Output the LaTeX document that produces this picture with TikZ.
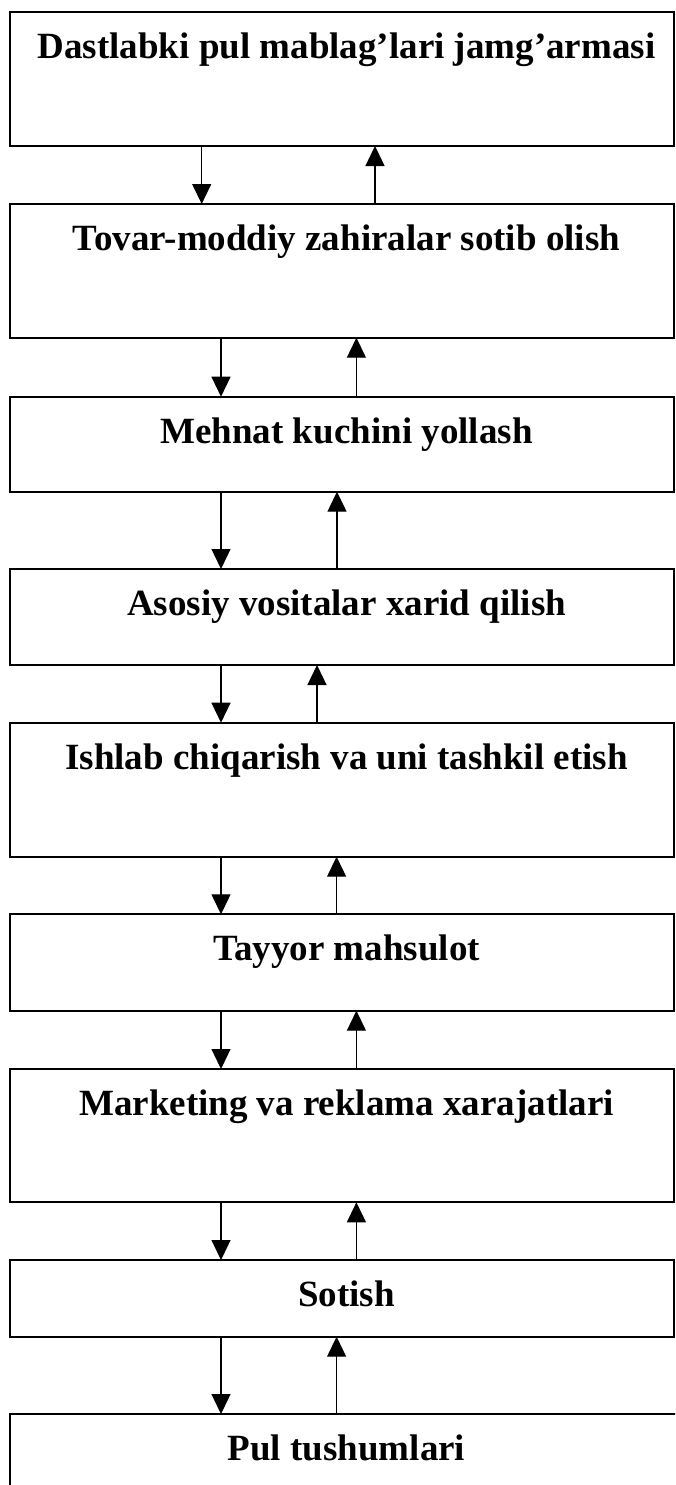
\documentclass[tikz,border=0pt]{standalone}
\usepackage{fontspec}
\setmainfont{Liberation Serif}
\usetikzlibrary{arrows.meta}
\begin{document}
\begin{tikzpicture}[x=1pt,y=-1pt,
  stage/.style={draw, line width=2pt, rectangle, inner sep=0pt, outer sep=0pt,
    anchor=north west, minimum width=664pt},
  caption/.style={anchor=base, inner sep=0pt,
    font=\bfseries\fontsize{37}{44}\selectfont},
  flow/.style={line width=1.3pt, -{Triangle[length=20pt,width=19pt]}}]
\useasboundingbox (0,0) rectangle (675,1485);
\clip (0,0) rectangle (675,1485);

% stages of the cycle
\node[stage, minimum height=133.7pt] (b1) at (10,12.3) {};
\node[stage, minimum height=133.7pt] (b2) at (10,204) {};
\node[stage, minimum height=95pt]    (b3) at (10,396.7) {};
\node[stage, minimum height=96pt]    (b4) at (10,569) {};
\node[stage, minimum height=134pt]   (b5) at (10,722.7) {};
\node[stage, minimum height=96.4pt]  (b6) at (10,914.3) {};
\node[stage, minimum height=133.3pt] (b7) at (10,1069) {};
\node[stage, minimum height=76.7pt]  (b8) at (10,1260) {};
\node[stage, minimum height=100pt, minimum width=680pt] (b9) at (10,1414) {};

% captions
\node[caption] (t1) at (346.5,58.8)   {Dastlabki pul mablag’lari jamg’armasi};
\node[caption] (t2) at (346.5,250.5)  {Tovar-moddiy zahiralar sotib olish};
\node[caption] (t3) at (346.5,443.2)  {Mehnat kuchini yollash};
\node[caption] (t4) at (346.5,615.5)  {Asosiy vositalar xarid qilish};
\node[caption] (t5) at (346.5,769.2)  {Ishlab chiqarish va uni tashkil etish};
\node[caption] (t6) at (346.5,960.8)  {Tayyor mahsulot};
\node[caption] (t7) at (346.5,1115.5) {Marketing va reklama xarajatlari};
\node[caption] (t8) at (346.5,1306.5) {Sotish};
\node[caption] (t9) at (346.5,1460.5) {Pul tushumlari};

% forward (down) and backward (up) links between neighbouring stages
\draw[flow] ([xshift=191.7pt]b1.south west) -- ([xshift=191.7pt]b2.north west);
\draw[flow] ([xshift=365pt]b2.north west) -- ([xshift=365pt]b1.south west);

\draw[flow] ([xshift=211pt]b2.south west) -- ([xshift=211pt]b3.north west);
\draw[flow] ([xshift=346.4pt]b3.north west) -- ([xshift=346.4pt]b2.south west);

\draw[flow] ([xshift=211pt]b3.south west) -- ([xshift=211pt]b4.north west);
\draw[flow] ([xshift=327pt]b4.north west) -- ([xshift=327pt]b3.south west);

\draw[flow] ([xshift=211pt]b4.south west) -- ([xshift=211pt]b5.north west);
\draw[flow] ([xshift=307pt]b5.north west) -- ([xshift=307pt]b4.south west);

\draw[flow] ([xshift=211pt]b5.south west) -- ([xshift=211pt]b6.north west);
\draw[flow] ([xshift=326.6pt]b6.north west) -- ([xshift=326.6pt]b5.south west);

\draw[flow] ([xshift=211pt]b6.south west) -- ([xshift=211pt]b7.north west);
\draw[flow] ([xshift=346.4pt]b7.north west) -- ([xshift=346.4pt]b6.south west);

\draw[flow] ([xshift=211pt]b7.south west) -- ([xshift=211pt]b8.north west);
\draw[flow] ([xshift=346.4pt]b8.north west) -- ([xshift=346.4pt]b7.south west);

\draw[flow] ([xshift=211pt]b8.south west) -- ([xshift=211pt]b9.north west);
\draw[flow] ([xshift=326.6pt]b9.north west) -- ([xshift=326.6pt]b8.south west);
\end{tikzpicture}
\end{document}
